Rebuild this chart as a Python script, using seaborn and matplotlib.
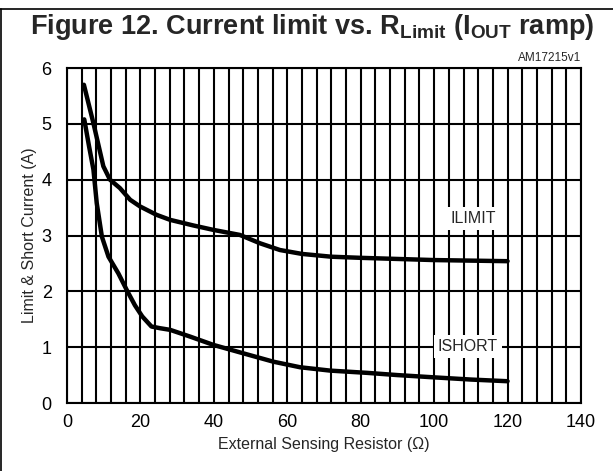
import matplotlib
matplotlib.use("Agg")
import matplotlib.pyplot as plt
import seaborn as sns
import pandas as pd
from matplotlib.lines import Line2D

# Data
ilimit_x = [4.6, 7.2, 9.9, 11.7, 14.4, 17.2, 19.9, 24.4, 28.1, 34.4, 39.9, 47.1, 52.6, 58.0, 64.0, 72.0, 80.0, 90.0, 100.0, 110.0, 120.0]
ilimit_y = [5.70, 5.01, 4.24, 4.00, 3.85, 3.64, 3.52, 3.37, 3.28, 3.18, 3.10, 3.01, 2.86, 2.74, 2.67, 2.62, 2.60, 2.58, 2.56, 2.55, 2.54]
ishort_x = [4.7, 6.0, 7.2, 8.1, 9.5, 11.3, 14.0, 16.3, 18.5, 20.5, 23.0, 25.3, 28.1, 33.5, 39.9, 48.0, 56.2, 63.5, 71.7, 81.7, 90.0, 99.8, 110.0, 120.0]
ishort_y = [5.08, 4.60, 4.18, 3.58, 2.98, 2.62, 2.32, 2.02, 1.75, 1.55, 1.37, 1.34, 1.31, 1.19, 1.04, 0.89, 0.74, 0.64, 0.58, 0.54, 0.50, 0.46, 0.42, 0.39]
series_labels = ["ILIMIT", "ISHORT"]
x_ticks = [0, 20, 40, 60, 80, 100, 120, 140]
y_ticks = [0, 1, 2, 3, 4, 5, 6]

df = pd.concat([
    pd.DataFrame({"R": ilimit_x, "I": ilimit_y, "s": series_labels[0]}),
    pd.DataFrame({"R": ishort_x, "I": ishort_y, "s": series_labels[1]}),
])

sns.set_style("white")
plt.rcParams["font.family"] = ["Liberation Sans", "DejaVu Sans"]
plt.rcParams["mathtext.fontset"] = "custom"
plt.rcParams["mathtext.rm"] = "Liberation Sans"
plt.rcParams["mathtext.bf"] = "Liberation Sans:bold"
plt.rcParams["mathtext.it"] = "Liberation Sans:italic"

fig = plt.figure(figsize=(6.13, 4.71), dpi=100)
ax = fig.add_axes([67/613, 1-403/471, (581-67)/613, (403-68)/471])

sns.lineplot(data=df, x="R", y="I", units="s", estimator=None, color="black",
             linewidth=3.2, ax=ax, legend=False, sort=False, zorder=3)

ax.set_xlim(0, 140)
ax.set_ylim(0, 6)
ax.set_xticks(x_ticks)
ax.set_xticks(list(range(0, 141, 4)), minor=True)
ax.set_yticks(y_ticks)
ax.grid(True, which="both", axis="x", color="black", linewidth=1.5)
ax.grid(True, which="major", axis="y", color="black", linewidth=1.5)
ax.set_axisbelow(True)
for sp in ax.spines.values():
    sp.set_color("black")
    sp.set_linewidth(1.5)
ax.tick_params(which="both", length=0, labelsize=13, colors="black")
ax.tick_params(axis="x", pad=8)
ax.tick_params(axis="y", pad=11)
ax.set_xlabel("External Sensing Resistor (\u03a9)", fontsize=11.5, labelpad=4)
ax.set_ylabel("Limit & Short Current (A)", fontsize=11.5, labelpad=3)

ax.text(110.6, 3.31, "ILIMIT", fontsize=11.5, ha="center", va="center",
        bbox=dict(facecolor="white", edgecolor="none", pad=3), zorder=4)
ax.text(109.2, 1.01, "ISHORT", fontsize=11.5, ha="center", va="center",
        bbox=dict(facecolor="white", edgecolor="none", pad=3), zorder=4)

ax.text(1.0, 1.012, "AM17215v1", transform=ax.transAxes, ha="right", va="bottom", fontsize=8.5)

title = r"Figure 12. Current limit vs. R$_{\mathbf{Limit}}$ (I$_{\mathbf{OUT}}$ ramp)"
fig.text(0.509, 1-27/471, title, ha="center", va="center", fontsize=19.5, fontweight="bold")

fig.add_artist(Line2D([1.5/613, 1.5/613], [0, 1-9/471], color="black", linewidth=1.2, transform=fig.transFigure))
fig.add_artist(Line2D([0, 1], [1-9/471, 1-9/471], color="black", linewidth=1.2, transform=fig.transFigure))

fig.savefig("out.png", dpi=100)
